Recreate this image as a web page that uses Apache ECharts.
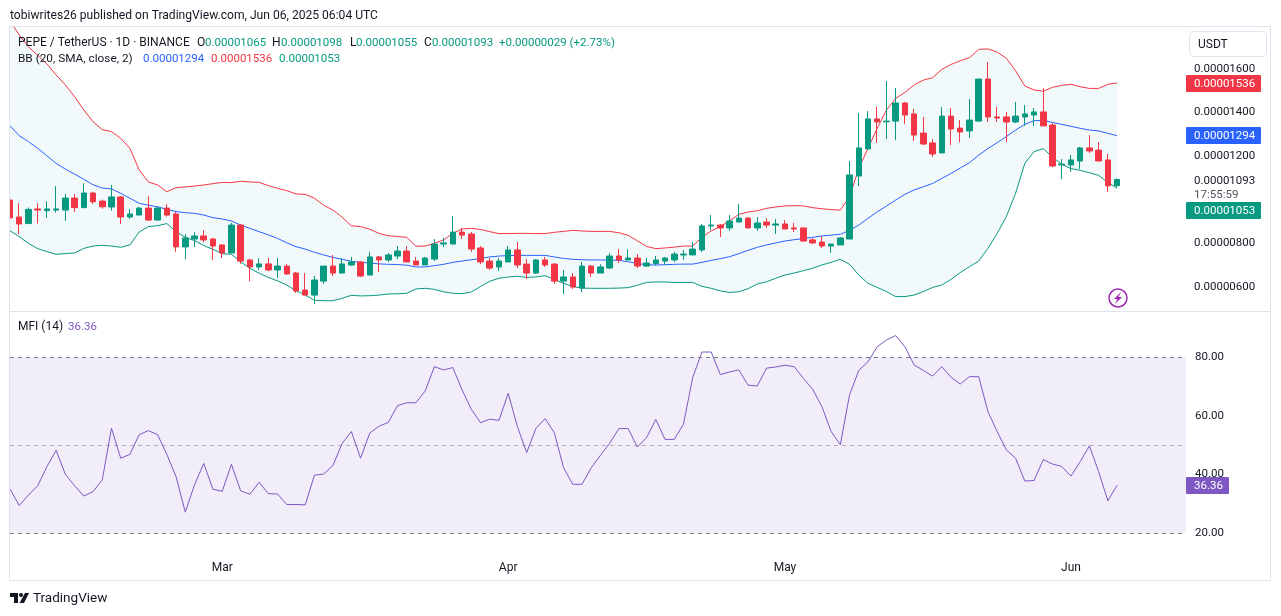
<!DOCTYPE html>
<html>
<head>
<meta charset="utf-8">
<title>PEPE / TetherUS</title>
<style>
  html, body { margin: 0; padding: 0; background: #fff; }
  #chart { width: 1281px; height: 616px; }
</style>
<script src="https://cdn.jsdelivr.net/npm/echarts@6/dist/echarts.min.js"></script>
</head>
<body>
<div id="chart"></div>
<script>
// all prices are in units of 0.00000001 USDT, one value per day from Feb 06 2025
var openPrices = [999,921,891,958,950,953,953,1008,964,1031,994,967,1013,921,930,962,907,962,935,784,820,834,820,793,756,884,724,692,706,678,696,664,586,563,627,696,664,701,715,655,738,724,742,765,719,701,728,797,797,852,843,779,719,692,715,770,705,664,724,705,627,646,595,696,664,687,742,724,733,696,708,719,724,747,747,770,880,884,871,898,916,871,898,884,889,871,871,816,806,788,793,820,1109,1233,1371,1358,1361,1444,1394,1306,1261,1215,1384,1329,1316,1361,1554,1380,1380,1357,1380,1389,1403,1343,1160,1160,1178,1238,1228,1183,1065];
var closePrices = [917,889,956,953,958,958,1008,964,1031,991,968,1013,921,935,962,907,962,930,784,825,834,816,788,756,884,719,692,706,678,696,660,582,563,632,696,664,706,715,650,738,724,747,765,715,701,733,797,802,852,838,774,715,687,719,770,701,664,724,701,627,646,600,696,664,692,742,724,733,696,710,724,733,751,751,774,880,884,871,903,916,871,894,884,889,866,866,811,802,788,797,825,1114,1238,1371,1357,1361,1444,1389,1297,1256,1210,1384,1325,1311,1366,1554,1380,1375,1357,1384,1394,1403,1339,1155,1164,1183,1238,1224,1178,1064,1093];
var highPrices = [1040,984,965,984,993,1063,1027,1027,1076,1037,1001,1068,1017,958,968,1017,968,979,944,842,852,861,825,797,894,889,729,732,733,733,706,669,664,651,696,747,733,738,719,761,742,756,788,788,738,738,820,825,926,871,852,788,733,733,788,806,728,728,738,710,678,664,715,701,705,756,774,774,751,733,742,738,761,770,806,889,930,889,930,981,921,921,916,912,907,894,871,825,834,797,829,1178,1398,1407,1426,1545,1513,1449,1417,1380,1279,1426,1421,1366,1462,1554,1632,1426,1403,1449,1435,1421,1513,1352,1187,1206,1242,1297,1265,1210,1098];
var lowPrices = [917,843,891,891,917,941,903,944,964,981,959,950,889,913,930,903,907,923,761,728,784,806,724,733,756,706,627,678,673,641,655,573,562,522,614,651,664,696,646,655,669,715,728,715,701,701,719,783,797,820,761,705,678,673,715,687,637,660,692,614,568,591,577,646,664,682,710,724,687,692,699,701,715,724,747,761,861,829,857,898,871,857,871,843,866,852,806,797,779,756,793,820,1063,1233,1261,1279,1274,1348,1270,1251,1196,1215,1251,1265,1284,1361,1357,1357,1265,1352,1339,1339,1339,1150,1095,1128,1141,1215,1178,1036,1055];
var bbUpper = [1822,1756,1702,1663,1623,1573,1527,1473,1412,1358,1322,1313,1282,1236,1137,1082,1068,1037,1056,1059,1063,1068,1074,1080,1079,1085,1082,1080,1065,1053,1042,1027,1025,1007,975,953,920,881,877,865,846,835,832,828,787,788,800,816,846,866,869,864,854,845,845,846,846,845,845,851,855,860,857,855,855,855,849,837,812,786,776,779,783,788,788,828,857,878,904,933,944,950,961,967,972,973,972,964,959,955,953,1014,1144,1236,1328,1412,1465,1493,1527,1549,1560,1598,1621,1638,1652,1690,1692,1678,1649,1592,1522,1504,1498,1516,1525,1530,1519,1511,1511,1530,1536];
var bbBasis = [1340,1294,1267,1236,1202,1167,1141,1118,1094,1069,1054,1050,1030,1007,984,975,968,956,946,941,938,930,918,912,903,884,869,854,839,823,803,785,774,759,747,736,727,718,713,710,706,704,703,700,692,692,698,704,713,719,725,731,738,742,744,745,745,745,745,738,731,727,725,724,724,724,722,716,708,702,701,702,704,705,705,713,722,730,739,753,768,782,793,802,811,817,822,828,834,838,842,860,884,915,945,971,999,1025,1045,1060,1075,1098,1121,1146,1170,1205,1235,1262,1290,1320,1346,1363,1364,1355,1346,1337,1328,1320,1316,1305,1294];
var bbLower = [858,831,800,776,762,750,753,756,777,788,791,788,782,793,852,877,881,891,854,828,813,790,773,753,750,716,686,663,644,628,609,583,563,539,537,537,548,562,559,560,563,568,569,571,591,594,589,578,571,569,577,602,626,640,646,649,644,646,652,635,617,602,595,594,594,594,595,597,608,621,623,623,621,621,621,603,594,582,575,578,592,614,624,640,655,664,675,686,701,713,727,704,655,617,598,579,556,556,563,579,598,609,635,666,693,719,777,846,923,1030,1167,1221,1235,1195,1163,1143,1135,1124,1112,1080,1053];
var mfiValues = [35.1,29.5,33,36.2,42.7,48.3,40.1,36.2,32.7,34.2,38.2,55.8,45.6,46.9,53.6,55,53.6,46.9,39.3,27.2,36.5,43.8,35,34.3,43.5,34.5,33.3,37.4,33.5,33.4,29.8,29.8,29.7,39.8,40.2,43.1,50.6,54.7,45.6,54.2,56.5,57.8,63.5,64.5,64.5,68.5,76.8,75.7,76.5,68.9,62.3,57.7,58.9,58.5,67.7,56.4,47.5,55.7,59.1,54.3,42.4,36.7,36.7,42.3,46.6,50.7,55.7,55.7,49.4,52.6,58.8,52,52,57.2,73.1,81.8,81.8,74.1,75,75.7,70.5,70.2,76.3,76.7,77.3,76.8,72.8,69.1,63.2,54.7,50.2,67.2,75.5,78.5,83.6,85.9,87.4,83.6,77.4,75.5,73.6,76.8,73.2,70.9,73.4,73.4,61.5,54.7,48.4,45.6,37.8,38,45.1,43.6,42.8,39.5,44.4,49.8,41,31.1,36.36];
var priceTicks = [600, 800, 1200, 1400, 1600];
var mfiTicks = [20, 40, 60, 80];
var mfiLevels = [80, 50, 20];
// day numbers counted from Feb 06
var monthTicks = [23, 54, 84, 115];
var monthNames = ['Mar', 'Apr', 'May', 'Jun'];

var lastSlot = 127.47;
var RED = '#F23645', GREEN = '#089981', BLUE = '#2962FF', PURPLE = '#7E57C2', INK = '#131722', EDGE = '#E0E3EB';
var FONT = 'Roboto, sans-serif';
var NUM_SIZE = 11.5;

function pair(list) { return list.map(function (v, i) { return [i, v]; }); }
function price(v) { return (v / 1e8).toFixed(8); }

var candles = openPrices.map(function (o, i) {
  return [i, o, closePrices[i], lowPrices[i], highPrices[i]];
});

function label(x, y, text, fill, size) {
  return { type: 'text', x: x, y: y + 0.8, silent: true, z: 20,
    style: { text: text, fill: fill || INK, font: (size || 12) + 'px ' + FONT, verticalAlign: 'middle' } };
}
function badge(x, y, w, text, bg) {
  return [
    { type: 'rect', z: 19, silent: true, shape: { x: x, y: y, width: w, height: 17, r: 1 }, style: { fill: bg } },
    label(1194, y + 8.5, text, '#fff', NUM_SIZE)
  ];
}
function line(x1, y1, x2, y2) {
  return { type: 'line', silent: true, z: 18, shape: { x1: x1, y1: y1, x2: x2, y2: y2 }, style: { stroke: EDGE, lineWidth: 1 } };
}

// the band between the upper and lower lines, as one shape
function renderBand(params, api) {
  var upper = bbUpper.map(function (v, i) { return api.coord([i, v]); });
  var lower = bbLower.map(function (v, i) { return api.coord([i, v]); }).reverse();
  return {
    type: 'polygon',
    shape: { points: upper.concat(lower) },
    style: { fill: 'rgba(30,150,180,0.06)' }
  };
}

var overlay = [
  // the first candle is cut by the pane edge
  { type: 'rect', z: 17, silent: true, shape: { x: 0, y: 27, width: 9.5, height: 284 }, style: { fill: '#fff' } },
  label(10, 15, 'tobiwrites26 published on TradingView.com, Jun 06, 2025 06:04 UTC', INK, 12.1),
  label(18, 42, 'PEPE / TetherUS · 1D · BINANCE'),
  label(197, 42, 'O'), label(205, 42, price(1065), GREEN, NUM_SIZE),
  label(272, 42, 'H'), label(281, 42, price(1098), GREEN, NUM_SIZE),
  label(350, 42, 'L'), label(356, 42, price(1055), GREEN, NUM_SIZE),
  label(424, 42, 'C'), label(432, 42, price(1093), GREEN, NUM_SIZE),
  label(499, 42, '+0.00000029 (+2.73%)', GREEN, NUM_SIZE),
  label(18, 58, 'BB (20, SMA, close, 2)', INK, 11.8),
  label(143, 58, price(1294), BLUE, NUM_SIZE),
  label(211, 58, price(1536), RED, NUM_SIZE),
  label(279, 58, price(1053), GREEN, NUM_SIZE),
  label(18, 326, 'MFI (14)'),
  label(68, 326, '36.36', PURPLE, NUM_SIZE),
  label(1194, 180, price(1093), INK, NUM_SIZE),
  label(1194, 194, '17:55:59', '#50535E', NUM_SIZE),
  line(9.5, 26.5, 1270.5, 26.5),
  line(9.5, 311.5, 1270.5, 311.5),
  line(9.5, 580.5, 1270.5, 580.5),
  line(9.5, 26.5, 9.5, 580.5),
  line(1270.5, 26.5, 1270.5, 580.5),
  { type: 'rect', z: 18, silent: true, shape: { x: 1189.5, y: 31.5, width: 77, height: 25, r: 4 }, style: { fill: '#fff', stroke: EDGE } },
  label(1198, 44, 'USDT'),
  label(33, 598, 'TradingView', INK, 13.5),
  // lightning mark under the price pane
  { type: 'circle', z: 18, silent: true, shape: { cx: 1118, cy: 298, r: 9 }, style: { fill: '#fff', stroke: '#9C27B0', lineWidth: 1.5 } },
  { type: 'polygon', z: 19, silent: true, shape: { points: [[1121, 292], [1114, 299], [1117.5, 299], [1115, 304], [1122, 297], [1118.5, 297]] }, style: { fill: '#9C27B0' } },
  // TradingView logo
  { type: 'polygon', z: 18, silent: true, shape: { points: [[10, 593], [18, 593], [18, 603], [14, 603], [14, 597], [10, 597]] }, style: { fill: INK } },
  { type: 'circle', z: 18, silent: true, shape: { cx: 21, cy: 595, r: 2 }, style: { fill: INK } },
  { type: 'polygon', z: 18, silent: true, shape: { points: [[25, 593], [29, 593], [24, 603], [19.5, 603]] }, style: { fill: INK } }
]
  .concat(badge(1186, 75, 75, price(1536), RED))
  .concat(badge(1186, 127, 75, price(1294), BLUE))
  .concat(badge(1186, 202, 75, price(1053), GREEN))
  .concat(badge(1186, 477, 43, '36.36', PURPLE));

var chart = echarts.init(document.getElementById('chart'), null, { renderer: 'canvas' });

chart.setOption({
  animation: false,
  backgroundColor: '#fff',
  textStyle: { fontFamily: FONT },
  grid: [
    { left: 10, top: 27, width: 1176, height: 284 },
    { left: 10, top: 312, width: 1176, height: 240 }
  ],
  xAxis: [
    { type: 'value', gridIndex: 0, min: 0, max: lastSlot, show: false, splitLine: { show: false } },
    {
      type: 'value', gridIndex: 1, min: 0, max: lastSlot,
      axisLine: { show: false }, axisTick: { show: false }, splitLine: { show: false },
      axisLabel: {
        customValues: monthTicks, color: INK, fontSize: 12, fontFamily: FONT, margin: 10,
        formatter: function (v) { return monthNames[monthTicks.indexOf(v)]; }
      }
    }
  ],
  yAxis: [
    {
      type: 'value', gridIndex: 0, position: 'right', min: 489.9, max: 1792.7,
      axisLine: { show: false }, axisTick: { show: false }, splitLine: { show: false },
      axisLabel: { customValues: priceTicks, color: INK, fontSize: NUM_SIZE, fontFamily: FONT, margin: 8, padding: [2, 0, 0, 0], formatter: price }
    },
    {
      type: 'value', gridIndex: 1, position: 'right', min: 13.62, max: 95.44,
      axisLine: { show: false }, axisTick: { show: false }, splitLine: { show: false },
      axisLabel: {
        customValues: mfiTicks, color: INK, fontSize: NUM_SIZE, fontFamily: FONT, margin: 9, padding: [2, 0, 0, 0],
        formatter: function (v) { return v.toFixed(2); }
      }
    }
  ],
  series: [
    { name: 'band fill', type: 'custom', data: [[0, bbLower[0]]], renderItem: renderBand, clip: true, silent: true, z: 1 },
    { name: 'upper', type: 'line', data: pair(bbUpper), showSymbol: false, silent: true, lineStyle: { color: RED, width: 1 }, z: 2 },
    { name: 'basis', type: 'line', data: pair(bbBasis), showSymbol: false, silent: true, lineStyle: { color: BLUE, width: 1 }, z: 2 },
    { name: 'lower', type: 'line', data: pair(bbLower), showSymbol: false, silent: true, lineStyle: { color: GREEN, width: 1 }, z: 2 },
    {
      name: 'PEPE', type: 'candlestick', data: candles, barWidth: 6, silent: true, z: 3,
      itemStyle: { color: GREEN, color0: RED, borderColor: GREEN, borderColor0: RED, borderWidth: 1 }
    },
    {
      name: 'MFI', type: 'line', xAxisIndex: 1, yAxisIndex: 1, data: pair(mfiValues), showSymbol: false, silent: true,
      lineStyle: { color: PURPLE, width: 1 }, z: 3,
      markArea: { silent: true, itemStyle: { color: 'rgba(126,87,194,0.1)' }, data: [[{ yAxis: 20 }, { yAxis: 80 }]] },
      markLine: {
        silent: true, symbol: 'none', label: { show: false },
        data: mfiLevels.map(function (v) {
          return { yAxis: v, lineStyle: { color: v === 50 ? 'rgba(120,123,134,0.55)' : '#787B86', type: [4, 4], width: 1 } };
        })
      }
    }
  ],
  graphic: overlay
});
</script>
</body>
</html>
